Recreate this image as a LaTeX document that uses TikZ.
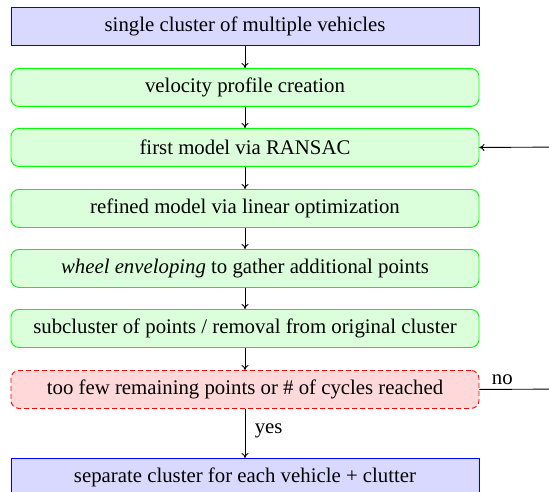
\documentclass[tikz,border=0pt]{standalone}
\usepackage{fontspec}
\setmainfont{Liberation Serif}
\usetikzlibrary{arrows.meta}
\begin{document}
\begin{tikzpicture}[x=1pt,y=-1pt,
  every node/.style={font=\rmfamily\fontsize{20.8}{24}\selectfont},
  base/.style={minimum width=468pt, minimum height=38pt, inner sep=0pt, line width=0.9pt, anchor=north},
  bluebox/.style={base, draw=blue, fill=blue!15},
  greenbox/.style={base, draw=green, fill=green!14, rounded corners=8pt},
  redbox/.style={base, draw=red, fill=red!15, rounded corners=8pt, dashed, dash pattern=on 5pt off 3pt},
  conn/.style={line width=0.9pt, -{To[length=5pt,width=7pt]}}]
\useasboundingbox (0,0) rectangle (549,492);
\node[bluebox] (a) at (245,7) {single cluster of multiple vehicles};
\node[greenbox] (b) at (245,68) {velocity profile creation};
\node[greenbox] (c) at (245,128) {first model via RANSAC};
\node[greenbox] (d) at (245,189) {refined model via linear optimization};
\node[greenbox] (e) at (245,249) {\textit{wheel enveloping} to gather additional points};
\node[greenbox] (f) at (245,309) {subcluster of points / removal from original cluster};
\node[redbox] (g) at (245,370) {too few remaining points or \# of cycles reached};
\node[bluebox] (h) at (245,458) {separate cluster for each vehicle + clutter};
\draw[conn] (a) -- (b);
\draw[conn] (b) -- (c);
\draw[conn] (c) -- (d);
\draw[conn] (d) -- (e);
\draw[conn] (e) -- (f);
\draw[conn] (f) -- (g);
\draw[conn] (g) -- node[right, xshift=6pt, pos=0.45] {yes} (h);
\coordinate (r1) at (575,389);
\coordinate (r2) at (575,147);
\draw[conn] (g.east) -- node[above, pos=0.24, yshift=1pt] {no} (r1) -- (r2) -- (c.east);
\end{tikzpicture}
\end{document}
